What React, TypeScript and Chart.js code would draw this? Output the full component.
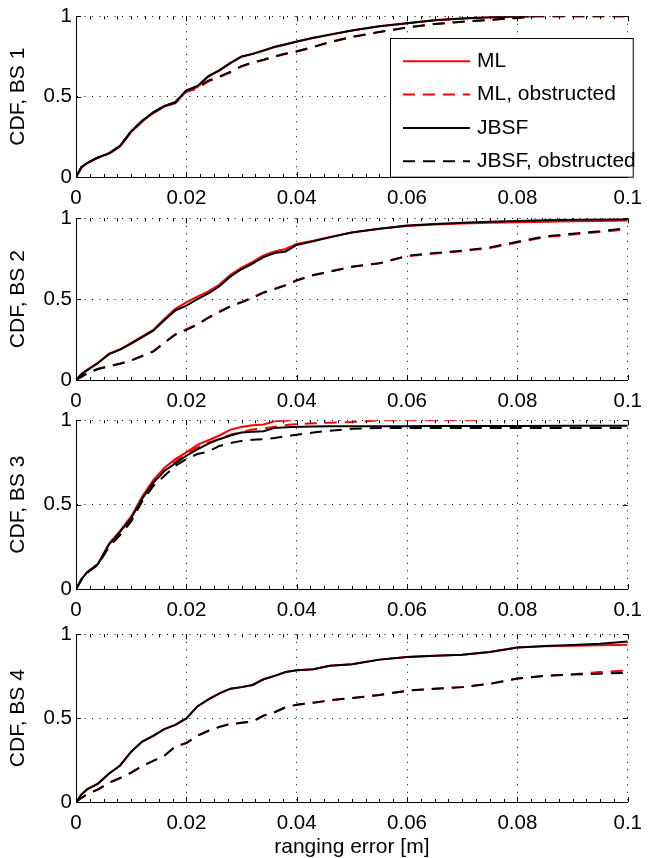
import React, { useEffect, useRef } from "react";
import { Chart, registerables } from "chart.js";

Chart.register(...registerables);

// ---------- data ----------
const SERIES_NAMES = ["ML", "ML, obstructed", "JBSF", "JBSF, obstructed"];
const Y_LABELS = ["CDF, BS 1", "CDF, BS 2", "CDF, BS 3", "CDF, BS 4"];
const X_LABEL = "ranging error [m]";
const X_TICKS = [0, 0.02, 0.04, 0.06, 0.08, 0.1];
const Y_TICKS = [0, 0.5, 1];

// BS 1
const X1 = [0, 0.001, 0.002, 0.004, 0.006, 0.008, 0.01, 0.012, 0.014, 0.016, 0.018, 0.02, 0.022, 0.024, 0.026, 0.028, 0.03, 0.032, 0.034, 0.036, 0.038, 0.04, 0.043, 0.046, 0.05, 0.055, 0.06, 0.065, 0.07, 0.075, 0.08, 0.082, 0.083, 0.09, 0.1];
const ML1 = [0, 0.06, 0.085, 0.12, 0.145, 0.19, 0.28, 0.345, 0.398, 0.438, 0.46, 0.535, 0.56, 0.625, 0.662, 0.708, 0.748, 0.765, 0.786, 0.808, 0.825, 0.842, 0.865, 0.885, 0.912, 0.938, 0.957, 0.975, 0.987, 0.994, 0.999, 1.0, null, null, null];
const MLO1 = [0, 0.06, 0.085, 0.12, 0.145, 0.19, 0.28, 0.345, 0.398, 0.438, 0.46, 0.53, 0.55, 0.595, 0.622, 0.652, 0.688, 0.71, 0.728, 0.748, 0.765, 0.78, 0.808, 0.838, 0.87, 0.902, 0.93, 0.952, 0.966, 0.978, 0.99, 0.996, 1.0, 1.0, 1.0];
const JBSF1 = [0, 0.062, 0.087, 0.122, 0.148, 0.195, 0.285, 0.35, 0.402, 0.442, 0.465, 0.539, 0.567, 0.628, 0.665, 0.71, 0.75, 0.766, 0.788, 0.81, 0.826, 0.843, 0.866, 0.886, 0.912, 0.938, 0.957, 0.975, 0.987, 0.994, 0.998, 0.999, 1.0, null, null];
const JBSFO1 = [0, 0.062, 0.087, 0.122, 0.148, 0.195, 0.285, 0.35, 0.402, 0.442, 0.465, 0.537, 0.56, 0.6, 0.625, 0.655, 0.69, 0.713, 0.73, 0.75, 0.768, 0.782, 0.81, 0.84, 0.872, 0.903, 0.93, 0.952, 0.966, 0.978, 0.99, 0.996, 1.0, 1.0, 1.0];

// BS 2
const X2 = [0, 0.001, 0.002, 0.004, 0.006, 0.008, 0.01, 0.012, 0.014, 0.016, 0.018, 0.02, 0.022, 0.024, 0.026, 0.028, 0.03, 0.032, 0.034, 0.036, 0.038, 0.04, 0.043, 0.046, 0.05, 0.055, 0.06, 0.065, 0.07, 0.075, 0.08, 0.085, 0.09, 0.095, 0.1];
const ML2 = [0, 0.038, 0.063, 0.108, 0.163, 0.19, 0.23, 0.27, 0.31, 0.378, 0.44, 0.48, 0.515, 0.548, 0.59, 0.65, 0.695, 0.73, 0.77, 0.795, 0.81, 0.842, 0.862, 0.885, 0.913, 0.935, 0.953, 0.962, 0.968, 0.972, 0.975, 0.978, 0.981, 0.983, 0.986];
const MLO2 = [0, 0.022, 0.042, 0.07, 0.087, 0.102, 0.122, 0.15, 0.178, 0.232, 0.283, 0.314, 0.345, 0.388, 0.424, 0.458, 0.483, 0.51, 0.543, 0.565, 0.588, 0.618, 0.65, 0.672, 0.7, 0.722, 0.765, 0.782, 0.797, 0.816, 0.85, 0.883, 0.9, 0.915, 0.933];
const JBSF2 = [0, 0.035, 0.06, 0.105, 0.16, 0.188, 0.225, 0.265, 0.305, 0.37, 0.43, 0.46, 0.5, 0.535, 0.58, 0.64, 0.685, 0.72, 0.76, 0.785, 0.795, 0.835, 0.858, 0.882, 0.912, 0.935, 0.955, 0.965, 0.972, 0.978, 0.984, 0.988, 0.991, 0.993, 0.994];
const JBSFO2 = [0, 0.02, 0.04, 0.068, 0.085, 0.1, 0.12, 0.148, 0.175, 0.23, 0.28, 0.31, 0.342, 0.385, 0.42, 0.455, 0.48, 0.508, 0.54, 0.562, 0.585, 0.615, 0.648, 0.67, 0.7, 0.722, 0.768, 0.785, 0.8, 0.82, 0.855, 0.888, 0.905, 0.92, 0.939];

// BS 3
const X3 = [0, 0.001, 0.002, 0.004, 0.006, 0.008, 0.01, 0.012, 0.014, 0.016, 0.018, 0.02, 0.022, 0.024, 0.026, 0.028, 0.03, 0.032, 0.034, 0.036, 0.039, 0.043, 0.046, 0.05, 0.055, 0.06, 0.065, 0.07, 0.073, 0.08, 0.09, 0.1];
const ML3 = [0, 0.06, 0.1, 0.15, 0.27, 0.345, 0.43, 0.548, 0.645, 0.718, 0.77, 0.81, 0.855, 0.882, 0.91, 0.945, 0.96, 0.97, 0.975, 0.995, 1.0, null, null, null, null, null, null, null, null, null, null, null];
const MLO3 = [0, 0.058, 0.098, 0.148, 0.262, 0.335, 0.415, 0.53, 0.625, 0.7, 0.755, 0.8, 0.84, 0.868, 0.89, 0.915, 0.93, 0.945, 0.952, 0.962, 0.975, 0.982, 0.986, 0.99, 1.0, 1.0, 1.0, 1.0, 1.0, null, null, null];
const JBSF3 = [0, 0.058, 0.098, 0.148, 0.265, 0.34, 0.42, 0.535, 0.63, 0.7, 0.745, 0.79, 0.828, 0.862, 0.888, 0.91, 0.927, 0.932, 0.935, 0.955, 0.96, 0.963, 0.964, 0.965, 0.965, 0.965, 0.966, 0.966, 0.966, 0.966, 0.967, 0.967];
const JBSFO3 = [0, 0.055, 0.095, 0.145, 0.25, 0.32, 0.4, 0.52, 0.61, 0.67, 0.73, 0.77, 0.8, 0.815, 0.848, 0.865, 0.878, 0.885, 0.888, 0.895, 0.91, 0.928, 0.938, 0.95, 0.955, 0.955, 0.955, 0.955, 0.955, 0.955, 0.955, 0.955];

// BS 4
const X4 = [0, 0.001, 0.002, 0.004, 0.006, 0.008, 0.01, 0.012, 0.014, 0.016, 0.018, 0.02, 0.022, 0.024, 0.026, 0.028, 0.03, 0.032, 0.034, 0.036, 0.038, 0.04, 0.043, 0.046, 0.05, 0.055, 0.06, 0.065, 0.07, 0.075, 0.08, 0.085, 0.09, 0.095, 0.1];
const ML4 = [0, 0.045, 0.075, 0.11, 0.17, 0.218, 0.3, 0.36, 0.395, 0.435, 0.46, 0.498, 0.57, 0.612, 0.648, 0.676, 0.685, 0.698, 0.732, 0.752, 0.775, 0.785, 0.792, 0.812, 0.822, 0.849, 0.865, 0.872, 0.878, 0.895, 0.921, 0.928, 0.932, 0.935, 0.938];
const MLO4 = [0, 0.025, 0.045, 0.075, 0.115, 0.143, 0.175, 0.215, 0.245, 0.275, 0.33, 0.352, 0.395, 0.425, 0.448, 0.465, 0.472, 0.48, 0.515, 0.535, 0.565, 0.58, 0.592, 0.606, 0.62, 0.638, 0.664, 0.675, 0.685, 0.705, 0.736, 0.752, 0.762, 0.775, 0.785];
const JBSF4 = [0, 0.045, 0.075, 0.11, 0.17, 0.218, 0.3, 0.36, 0.395, 0.435, 0.46, 0.498, 0.57, 0.612, 0.648, 0.676, 0.685, 0.698, 0.732, 0.752, 0.775, 0.785, 0.792, 0.812, 0.822, 0.849, 0.865, 0.872, 0.878, 0.895, 0.921, 0.93, 0.936, 0.944, 0.957];
const JBSFO4 = [0, 0.025, 0.045, 0.075, 0.115, 0.143, 0.175, 0.215, 0.245, 0.275, 0.33, 0.352, 0.395, 0.425, 0.448, 0.465, 0.472, 0.48, 0.515, 0.535, 0.565, 0.58, 0.592, 0.606, 0.62, 0.638, 0.664, 0.675, 0.685, 0.705, 0.736, 0.752, 0.76, 0.765, 0.771];

const PANELS = [
  { x: X1, series: [ML1, MLO1, JBSF1, JBSFO1] },
  { x: X2, series: [ML2, MLO2, JBSF2, JBSFO2] },
  { x: X3, series: [ML3, MLO3, JBSF3, JBSFO3] },
  { x: X4, series: [ML4, MLO4, JBSF4, JBSFO4] },
];

// ---------- layout / style ----------
const W = 651;
const H = 858;
const PLOT_LEFT = 76;
const PLOT_RIGHT = 636;
const FRAMES = [
  { top: 13, bottom: 177 },
  { top: 215, bottom: 380 },
  { top: 417, bottom: 589 },
  { top: 631, bottom: 802 },
];
const PAD_TOP = 13;
const AXIS_H = 36;
const FONT_FAMILY = "'Liberation Sans', Arial, Helvetica, sans-serif";
const FONT_SIZE = 21;
const TICK_FONT_SIZE = 20.5;
const COLORS = ["#ff0000", "#ff0000", "#000000", "#000000"];
const DASHES = [[], [12, 8], [], [12, 8]];
const ORDERS = [3, 2, 1, 0];
const GRID_DASH = [1, 6.5];

const fmt = (v: number) => String(Math.round(v * 1000) / 1000);

const ticksPlugin = {
  id: "matlabTicks",
  afterDraw(chart: any) {
    const { ctx, chartArea, scales } = chart;
    const xs = scales.x;
    const ys = scales.y;
    ctx.save();
    ctx.strokeStyle = "#000";
    ctx.lineWidth = 1;
    ctx.beginPath();
    for (let i = 0; i <= 40; i++) {
      const v = i * 0.0025;
      const px = Math.round(xs.getPixelForValue(v)) + 0.5;
      const len = i % 8 === 0 ? 5 : 3;
      ctx.moveTo(px, chartArea.bottom);
      ctx.lineTo(px, chartArea.bottom - len);
      ctx.moveTo(px, chartArea.top);
      ctx.lineTo(px, chartArea.top + len);
    }
    for (const v of Y_TICKS) {
      const py = Math.round(ys.getPixelForValue(v)) + 0.5;
      ctx.moveTo(chartArea.left, py);
      ctx.lineTo(chartArea.left + 5, py);
      ctx.moveTo(chartArea.right, py);
      ctx.lineTo(chartArea.right - 5, py);
    }
    ctx.stroke();
    ctx.restore();
  },
};

const legendPlugin = {
  id: "boxLegend",
  afterDraw(chart: any) {
    if (!chart.options.plugins.boxLegend?.show) return;
    const { ctx, chartArea } = chart;
    const left = chartArea.left + 314;
    const top = chartArea.top + 22;
    const right = chartArea.right + 5;
    const bottom = chartArea.bottom;
    ctx.save();
    ctx.fillStyle = "#fff";
    ctx.fillRect(left, top, right - left, bottom - top);
    ctx.strokeStyle = "#000";
    ctx.lineWidth = 1;
    ctx.strokeRect(Math.round(left) + 0.5, Math.round(top) + 0.5, right - left, bottom - top);
    chart.data.datasets.forEach((ds: any, i: number) => {
      const y = top + 23 + i * 33.3;
      ctx.strokeStyle = ds.borderColor;
      ctx.lineWidth = 2;
      ctx.setLineDash(ds.borderDash || []);
      ctx.beginPath();
      ctx.moveTo(left + 13, y);
      ctx.lineTo(left + 80, y);
      ctx.stroke();
      ctx.setLineDash([]);
      ctx.fillStyle = "#000";
      ctx.font = `${FONT_SIZE}px ${FONT_FAMILY}`;
      ctx.textBaseline = "middle";
      ctx.textAlign = "left";
      ctx.fillText(ds.label, left + 87, y);
    });
    ctx.restore();
  },
};

function Panel({ idx }: { idx: number }) {
  const ref = useRef<HTMLCanvasElement>(null);
  const frame = FRAMES[idx];
  const isLast = idx === FRAMES.length - 1;
  const canvasTop = frame.top - PAD_TOP;
  const axisH = isLast ? H - frame.bottom : AXIS_H;
  const canvasH = frame.bottom - canvasTop + axisH;

  useEffect(() => {
    if (!ref.current) return;
    const panel = PANELS[idx];
    const tickFont = { family: FONT_FAMILY, size: TICK_FONT_SIZE };
    const titleFont = { family: FONT_FAMILY, size: FONT_SIZE, lineHeight: 1 };
    const chart = new Chart(ref.current, {
      type: "line",
      data: {
        datasets: panel.series.map((ys, i) => ({
          label: SERIES_NAMES[i],
          data: panel.x.map((x, j) => ({ x, y: ys[j] })),
          borderColor: COLORS[i],
          backgroundColor: COLORS[i],
          borderWidth: 2,
          borderDash: DASHES[i],
          pointRadius: 0,
          fill: false,
          tension: 0,
          spanGaps: false,
          order: ORDERS[i],
        })),
      },
      options: {
        animation: false,
        responsive: false,
        maintainAspectRatio: false,
        devicePixelRatio: 1,
        layout: { padding: { top: PAD_TOP, right: W - PLOT_RIGHT, left: 0, bottom: 0 } },
        plugins: {
          legend: { display: false },
          tooltip: { enabled: false },
          boxLegend: { show: idx === 0 },
        } as any,
        scales: {
          x: {
            type: "linear",
            min: 0,
            max: 0.1,
            position: "bottom",
            afterBuildTicks: (s: any) => {
              s.ticks = X_TICKS.map((v) => ({ value: v }));
            },
            ticks: {
              color: "#000",
              font: tickFont,
              padding: 9,
              maxRotation: 0,
              autoSkip: false,
              callback: (v: any) => fmt(Number(v)),
            },
            grid: { color: "#000", lineWidth: 1, drawTicks: false },
            border: { display: true, color: "#000", width: 1, dash: GRID_DASH },
            title: {
              display: isLast,
              text: X_LABEL,
              color: "#000",
              font: titleFont,
              padding: { top: 0, bottom: 0 },
            },
            afterFit: (s: any) => {
              s.height = axisH;
            },
          },
          y: {
            type: "linear",
            min: 0,
            max: 1,
            afterBuildTicks: (s: any) => {
              s.ticks = Y_TICKS.map((v) => ({ value: v }));
            },
            ticks: {
              color: "#000",
              font: tickFont,
              padding: 4,
              callback: (v: any) => fmt(Number(v)),
            },
            grid: { color: "#000", lineWidth: 1, drawTicks: false },
            border: { display: true, color: "#000", width: 1, dash: GRID_DASH },
            title: {
              display: true,
              text: Y_LABELS[idx],
              color: "#000",
              font: titleFont,
              padding: { top: 7.5, bottom: 0 },
            },
            afterFit: (s: any) => {
              s.width = PLOT_LEFT;
            },
          },
        },
      } as any,
      plugins: [ticksPlugin, legendPlugin],
    });
    return () => chart.destroy();
  }, [idx]);

  return (
    <canvas
      ref={ref}
      width={W}
      height={canvasH}
      style={{ position: "absolute", left: 0, top: canvasTop, width: W, height: canvasH }}
    />
  );
}

export default function App() {
  return (
    <div
      style={{
        position: "fixed",
        left: 0,
        top: 0,
        width: W,
        height: H,
        background: "#fff",
        overflow: "hidden",
      }}
    >
      {FRAMES.map((_, i) => (
        <Panel key={i} idx={i} />
      ))}
    </div>
  );
}
